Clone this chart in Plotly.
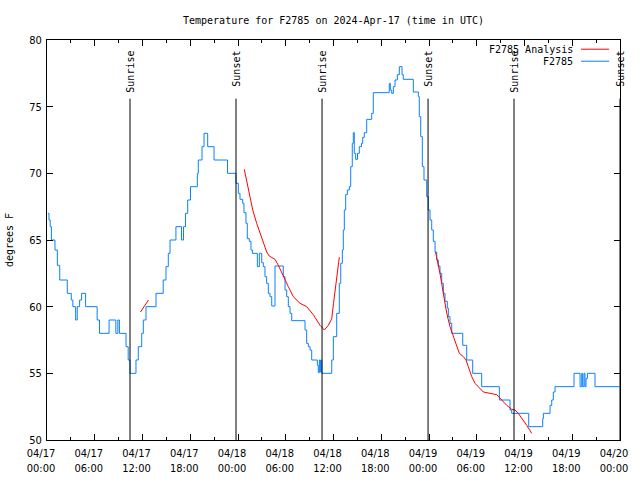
import pandas as pd
import plotly.graph_objects as go

START = pd.Timestamp("2024-04-17 00:00")

# Observed temperature (F2785): hours since 2024-04-17 00:00 UTC, step values
blue_hours = [0.1, 0.25, 0.4, 0.55, 1.0, 1.3, 1.6, 2.55, 3.05, 3.25, 3.6, 3.8, 4.1, 4.35, 4.85,
              6.3, 6.6, 7.8, 8.65, 8.9, 9.1, 9.93, 10.2, 10.43, 11.18, 11.47, 11.9, 12.1, 12.44,
              13.7, 14.6, 14.95, 15.24, 15.46, 16.2, 16.9, 17.15, 17.4, 17.68, 18.03, 18.89,
              19.01, 19.48, 19.73, 20.19, 20.99, 22.68,
              23.75, 24.04, 24.25, 24.59, 24.75, 25.0, 25.17, 25.42, 25.63, 25.8, 26.43, 26.68,
              26.98, 27.18, 27.39, 27.6, 27.81, 28.02, 28.24, 28.65, 29.69, 29.91, 30.12, 30.32,
              30.54, 30.75, 32.42, 32.63, 32.84, 33.05, 33.26, 33.97, 34.09, 34.22, 34.31, 34.39,
              34.52, 35.78, 35.98, 36.4, 36.73, 36.91, 37.11, 37.23, 37.36, 37.53, 37.74, 37.99,
              38.16, 38.36, 38.49, 38.61, 38.79, 39.02, 39.24, 39.52, 39.67, 39.87, 40.17, 40.8,
              41.0, 43.01, 43.14, 43.31, 43.52, 43.73, 44.02, 44.27, 44.61, 44.77, 46.03, 46.66,
              46.78, 46.96, 47.16, 47.37, 47.71, 47.91, 48.13, 48.34, 48.54, 48.76, 48.97, 49.17,
              49.38, 49.6, 49.8, 50.01, 50.3, 50.43, 50.64, 50.86, 52.24, 52.74, 53.49, 54.62,
              56.84, 58.18, 58.39, 60.53, 62.29, 62.37, 63.21, 63.42, 63.62, 63.84, 66.22, 66.98,
              67.19, 67.31, 67.48, 67.6, 67.73, 67.9, 68.86, 71.95]
blue_temp = [67, 66.5, 66, 65, 64.25, 63.1, 62, 61, 60.5, 60, 59, 60, 60.5, 61, 60,
             59, 58, 59, 58, 59, 58, 57, 56, 55, 56, 57, 58, 59, 60,
             61, 62, 63, 64, 65, 66, 65, 66, 67, 68, 69, 70,
             71, 72, 73, 72, 71, 70,
             69.25, 68.5, 68.05, 67.75, 67.05, 66.25, 65.1, 64.9, 64.25, 64, 63, 64,
             63.3, 63, 62.25, 61.75, 61, 60.75, 60.05, 63.05, 62.25, 61.25, 60.75, 60,
             59.5, 58.95, 58.25, 57.25, 57, 56.75, 56, 55.6, 55.05, 56, 55.1, 56,
             55, 56, 57.75, 59.5, 61.75, 63.25, 64.25, 65.75, 67.25, 68.4, 68.75, 69,
             70.5, 72.25, 73.05, 71.5, 71.05, 71.5, 72, 72.25, 72.7, 73.05, 74.05, 74.5,
             76.05, 76.75, 76.25, 76, 76.5, 77, 77.4, 78, 77.4, 77.05, 76.1, 75.75,
             74.25, 72.75, 70.5, 69.5, 68.25, 67.25, 66.5, 65.75, 64.9, 64.1, 63.5, 63.05,
             62.5, 61.75, 61, 60.4, 59.9, 59.25, 58.75, 58, 57.1, 56, 55, 54,
             53, 52.25, 52, 51, 51.6, 52, 52.6, 53, 53.6, 54, 55, 54,
             55, 54, 55, 54, 54.6, 55, 54, 54]

# Analysis (F2785 Analysis): None separates the three segments
red_hours = [11.75, 12.75, None,
             24.79, 25.3, 25.85, 26.35, 26.98, 27.61, 27.93, 28.65, 29.07, 29.69, 30.32, 30.95,
             31.79, 32.63, 33.46, 34.31, 34.85, 35.35, 35.78, 36.0, 36.28, 36.48, 36.73, None,
             48.82, 49.38, 49.8, 50.23, 50.64, 51.06, 51.48, 51.81, 52.31, 52.65, 52.94, 53.37,
             53.78, 54.41, 54.83, 55.67, 56.51, 57.14, 57.77, 58.39, 58.81, 59.22, 59.85, 60.28,
             60.91]
red_temp = [59.6, 60.5, None,
            70.3, 68.75, 67.25, 66.25, 65.25, 64.1, 63.8, 63.55, 63.1, 62.25, 61.5, 60.75,
            60.25, 60.0, 59.4, 58.6, 58.25, 58.6, 59.1, 60.25, 61.75, 62.75, 63.7, None,
            64.1, 62.5, 61.0, 59.5, 58.5, 57.75, 57.0, 56.5, 56.25, 56.0, 55.5, 54.75,
            54.25, 53.9, 53.6, 53.5, 53.4, 53.0, 52.6, 52.3, 52.25, 52.0, 51.5, 51.1,
            50.5]

# Sunrise / sunset events (hours since 2024-04-17 00:00 UTC)
event_hours = [10.43, 23.75, 34.56, 47.88, 58.68, 72.0]
event_names = ["Sunrise", "Sunset", "Sunrise", "Sunset", "Sunrise", "Sunset"]

title_text = "Temperature for F2785 on 2024-Apr-17 (time in UTC)"
y_title = "degrees F"


def to_time(hours):
    return [None if h is None else START + pd.Timedelta(hours=h) for h in hours]


FONT = "DejaVu Sans Mono"
TICKFONT = "Liberation Sans Narrow, DejaVu Sans Condensed, sans-serif"
fig = go.Figure()

fig.add_trace(go.Scatter(x=to_time(blue_hours), y=blue_temp, mode="lines",
                         line=dict(color="#0a80ff", width=1, shape="hv"),
                         name="F2785", showlegend=False))
fig.add_trace(go.Scatter(x=to_time(red_hours), y=red_temp, mode="lines",
                         line=dict(color="#ff0000", width=1), connectgaps=False,
                         name="F2785 Analysis", showlegend=False))

for h, name in zip(event_hours, event_names):
    t = START + pd.Timedelta(hours=h)
    fig.add_shape(type="line", x0=t, x1=t, y0=50, y1=75.6, xref="x", yref="y",
                  line=dict(color="black", width=1))
    fig.add_annotation(x=t, y=79.35, xref="x", yref="y", text=name, textangle=-90,
                       showarrow=False, xanchor="center", yanchor="top", xshift=1,
                       font=dict(family=FONT, size=10, color="black"))

# Legend in gnuplot style (text then sample line)
legend_items = [("F2785 Analysis", "#ff0000"), ("F2785", "#0a80ff")]
for i, (label, col) in enumerate(legend_items):
    yp = 0.977 - i * 0.030
    fig.add_annotation(x=0.922, y=yp, xref="paper", yref="paper", text=label,
                       showarrow=False, xanchor="right", yanchor="middle",
                       font=dict(family=FONT, size=10, color="black"))
    fig.add_shape(type="line", x0=0.932, x1=0.981, y0=yp, y1=yp, xref="paper",
                  yref="paper", line=dict(color=col, width=1))

fig.update_layout(
    width=640, height=480,
    margin=dict(l=47, r=20, t=40, b=40, autoexpand=False),
    paper_bgcolor="white", plot_bgcolor="white",
    title=dict(text=title_text, x=0.5, xref="paper", y=1 - 20 / 480, yref="container",
               yanchor="middle", font=dict(family=FONT, size=10, color="black"),
               automargin=False),
    font=dict(family=FONT, size=10, color="black"),
    showlegend=False,
)
fig.update_xaxes(
    range=[START, START + pd.Timedelta(hours=72)], automargin=False,
    tickformat="%m/%d<br>%H:%M", dtick=6 * 3600 * 1000, tick0=START,
    ticks="inside", ticklen=6, tickcolor="black", showline=True, linecolor="black",
    linewidth=1, mirror="allticks", showgrid=False, zeroline=False,
    minor=dict(dtick=3 * 3600 * 1000, ticks="inside", ticklen=3, tickcolor="black"),
    tickfont=dict(family=TICKFONT, size=11), ticklabelshift=-6, ticklabelstandoff=3,
)
fig.update_yaxes(
    range=[50, 80], dtick=5, ticks="inside", ticklen=6, tickcolor="black", automargin=False,
    showline=True, linecolor="black", linewidth=1, mirror="allticks",
    showgrid=False, zeroline=False,
    title=dict(text=y_title, font=dict(family=FONT, size=10), standoff=13),
    tickfont=dict(family=TICKFONT, size=11), ticklabelstandoff=2,
)

fig.write_html("out.html", config={"displayModeBar": False},
               post_script="document.body.style.margin='0';document.body.style.overflow='hidden';")
